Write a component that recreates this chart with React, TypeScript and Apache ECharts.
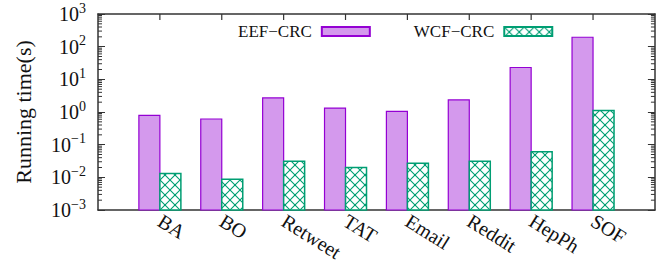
import React, { useEffect, useRef } from "react";
import * as echarts from "echarts";

const categories = ["BA", "BO", "Retweet", "TAT", "Email", "Reddit", "HepPh", "SOF"];
const eefCrc = [0.79, 0.61, 2.7, 1.32, 1.05, 2.34, 23, 194];
const wcfCrc = [0.013, 0.0087, 0.031, 0.02, 0.027, 0.031, 0.061, 1.12];
const seriesNames = ["EEF\u2212CRC", "WCF\u2212CRC"];
const yMin = 0.001;
const yMax = 1000;
const minorMantissas = [2, 3, 4, 5, 6, 7, 8, 9];
const decades = [-3, -2, -1, 0, 1, 2];

const FONT = "'Liberation Serif', 'Times New Roman', serif";
const AXIS_COLOR = "#333333";
const PURPLE = "#9400d3";
const PURPLE_FILL = "#d499ed";
const GREEN = "#009e73";
const BAR_W = 21;

function makeHatch(): HTMLCanvasElement {
  const c = document.createElement("canvas");
  const s = 10;
  c.width = s;
  c.height = s;
  const ctx = c.getContext("2d")!;
  ctx.fillStyle = "#ffffff";
  ctx.fillRect(0, 0, s, s);
  ctx.strokeStyle = GREEN;
  ctx.lineWidth = 1.1;
  ctx.beginPath();
  ctx.moveTo(0, 0);
  ctx.lineTo(s, s);
  ctx.moveTo(s, 0);
  ctx.lineTo(0, s);
  ctx.stroke();
  ctx.fillStyle = GREEN;
  ctx.fillRect(s / 2 - 1, s / 2 - 1, 2, 2);
  return c;
}

function barRenderer(offset: number) {
  return (params: any, api: any) => {
    const xi = api.value(0);
    const v = api.value(1);
    const top = api.coord([xi, v]);
    const base = api.coord([xi, yMin]);
    return {
      type: "rect",
      shape: { x: top[0] + offset, y: top[1], width: BAR_W, height: base[1] - top[1] },
      style: api.style(),
    };
  };
}

function minorTickRenderer(side: "left" | "right") {
  return (params: any, api: any) => {
    const y = api.coord([api.value(0), api.value(1)])[1];
    const cs = params.coordSys;
    const x = side === "left" ? cs.x : cs.x + cs.width - 4;
    return {
      type: "rect",
      shape: { x, y: y - 0.5, width: 4, height: 1 },
      style: { fill: AXIS_COLOR },
    };
  };
}

export default function App() {
  const ref = useRef<HTMLDivElement>(null);
  useEffect(() => {
    if (!ref.current) return;
    const chart = echarts.init(ref.current, null, { renderer: "svg" });
    const padded = ["", ...categories, " "];
    const minorValues: number[] = [];
    decades.forEach((e) => minorMantissas.forEach((m) => minorValues.push(m * Math.pow(10, e))));
    const hatch = { image: makeHatch(), repeat: "repeat" } as any;

    const yLabelFmt = (v: number) => {
      const e = Math.round(Math.log10(v));
      const es = e < 0 ? "\u2212" + -e : String(e);
      return `{b|10}{s|${es}}`;
    };

    const yCommon = {
      type: "log" as const,
      min: yMin,
      max: yMax,
      logBase: 10,
      splitNumber: 6,
      splitLine: { show: false },
      axisLine: { show: true, lineStyle: { color: AXIS_COLOR, width: 1.5 } },
      axisTick: { show: true, inside: true, length: 7, lineStyle: { color: AXIS_COLOR, width: 1 } },
    };

    chart.setOption({
      animation: false,
      textStyle: { fontFamily: FONT },
      grid: { left: 98, right: 12, top: 14, bottom: 58, containLabel: false },
      legend: {
        data: seriesNames.map((n) => ({ name: n, icon: "rect" })),
        left: 233,
        top: 18,
        align: "right",
        itemWidth: 48,
        itemHeight: 9,
        itemGap: 43,
        selectedMode: false,
        textStyle: { fontFamily: FONT, fontSize: 17, color: "#111", padding: [0, 5, 0, 0] },
      },
      xAxis: [
        {
          type: "category",
          data: padded,
          boundaryGap: false,
          axisLine: { show: true, lineStyle: { color: AXIS_COLOR, width: 1.5 } },
          axisTick: { show: false },
          axisLabel: {
            interval: 0,
            rotate: -32,
            margin: 9,
            fontFamily: FONT,
            fontSize: 20,
            color: "#111",
          },
        },
        {
          type: "category",
          data: padded,
          position: "top",
          boundaryGap: false,
          axisLine: { show: true, lineStyle: { color: AXIS_COLOR, width: 1.5 } },
          axisTick: { show: false },
          axisLabel: { show: false },
        },
      ],
      yAxis: [
        {
          ...yCommon,
          position: "left",
          name: "Running time(s)",
          nameLocation: "middle",
          nameGap: 64,
          nameTextStyle: { fontFamily: FONT, fontSize: 22, color: "#111" },
          axisLabel: {
            margin: 12,
            formatter: yLabelFmt,
            rich: {
              b: { fontFamily: FONT, fontSize: 20, color: "#111", lineHeight: 26 },
              s: { fontFamily: FONT, fontSize: 14, color: "#111", verticalAlign: "top", lineHeight: 14 },
            },
          },
        },
        {
          ...yCommon,
          position: "right",
          axisLabel: { show: false },
        },
      ],
      series: [
        {
          name: seriesNames[0],
          type: "custom",
          encode: { x: 0, y: 1 },
          data: categories.map((c, i) => [i + 1, eefCrc[i]]),
          itemStyle: { color: PURPLE_FILL, borderColor: PURPLE, borderWidth: 1.2 },
          renderItem: barRenderer(-BAR_W),
        },
        {
          name: seriesNames[1],
          type: "custom",
          encode: { x: 0, y: 1 },
          data: categories.map((c, i) => [i + 1, wcfCrc[i]]),
          itemStyle: { color: hatch, borderColor: GREEN, borderWidth: 1.5 },
          renderItem: barRenderer(0),
        },
        {
          name: "minorLeft",
          type: "custom",
          silent: true,
          z: 6,
          data: minorValues.map((v) => [1, v]),
          renderItem: minorTickRenderer("left"),
        },
        {
          name: "minorRight",
          type: "custom",
          silent: true,
          z: 6,
          data: minorValues.map((v) => [1, v]),
          renderItem: minorTickRenderer("right"),
        },
        {
          name: "topTicks",
          type: "custom",
          silent: true,
          z: 6,
          data: categories.map((c, i) => [i + 1, 1]),
          renderItem: (params: any, api: any) => {
            const x = api.coord([api.value(0), api.value(1)])[0];
            const cs = params.coordSys;
            return {
              type: "rect",
              shape: { x: x - 0.6, y: cs.y, width: 1.2, height: 6 },
              style: { fill: AXIS_COLOR },
            };
          },
        },
      ],
    });
    return () => chart.dispose();
  }, []);
  return (
    <div
      ref={ref}
      style={{ position: "fixed", left: 0, top: 0, width: 667, height: 268, background: "#fff" }}
    />
  );
}
